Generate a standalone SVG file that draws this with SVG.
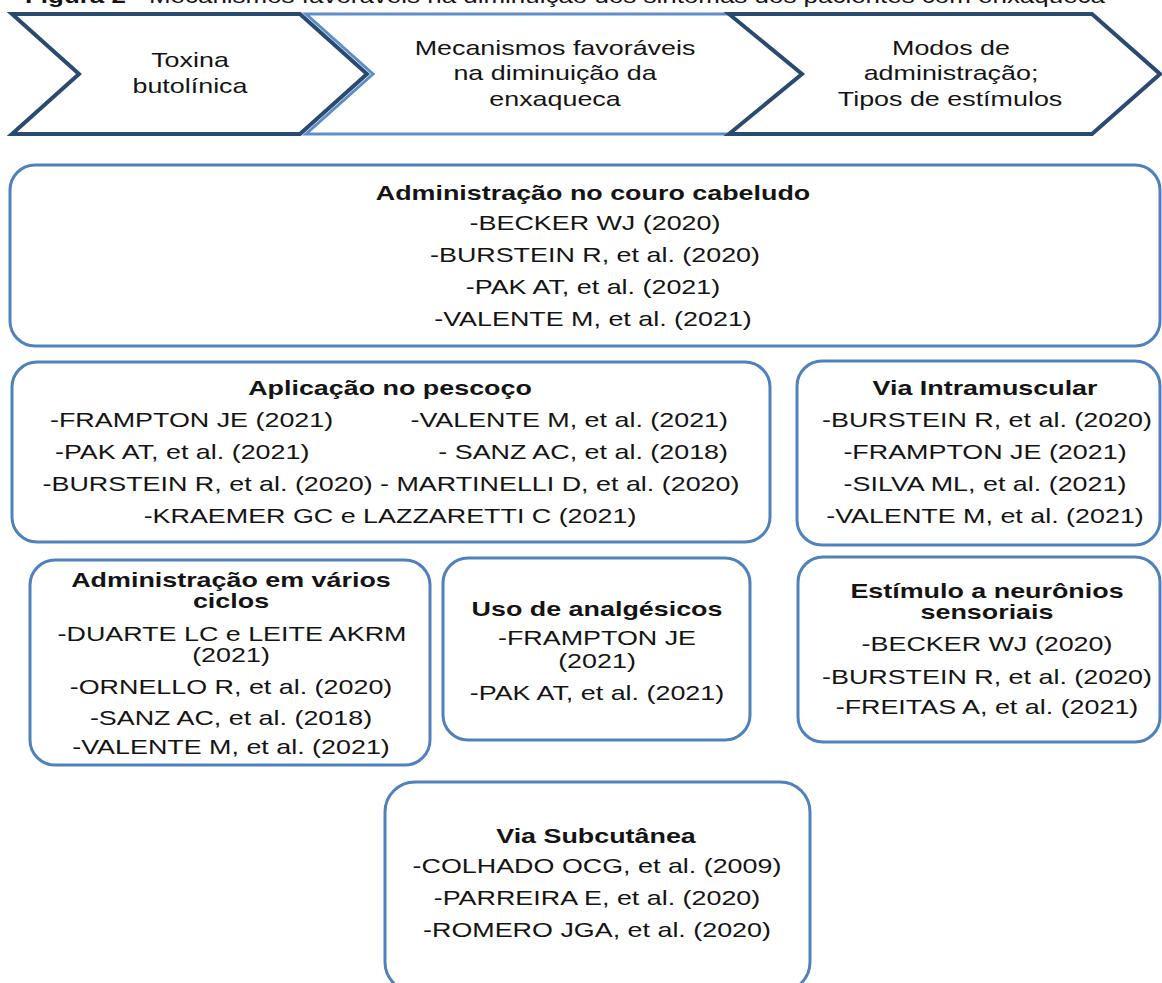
<svg xmlns="http://www.w3.org/2000/svg" width="1162" height="983" viewBox="0 0 1162 983">
<style>
  text { font-family: "Liberation Sans", Arial, sans-serif; font-size: 21px; fill: #141414; text-anchor: middle; }
  .b { font-weight: bold; }
  .s { text-anchor: start; }
  .e { text-anchor: end; }
  .box { fill: #ffffff; stroke: #4F81BD; stroke-width: 3; }
  .navy { fill: #ffffff; stroke: #2B4A70; stroke-width: 4; stroke-linejoin: miter; }
  .light { fill: #ffffff; stroke: #5F8DC8; stroke-width: 3; stroke-linejoin: miter; }
</style>
<rect width="1162" height="983" fill="#ffffff"/>

<g id="caption">
  <text x="25" y="3" class="s" textLength="1080" lengthAdjust="spacingAndGlyphs"><tspan class="b">Figura 2</tspan> - Mecanismos favoráveis na diminuição dos sintomas dos pacientes com enxaqueca</text>
</g>

<g id="chevron2">
  <path class="light" d="M306,14 L734,14 L806,74 L734,134 L306,134 L373,74 Z"/>
  <text transform="translate(555,55) scale(1.28,1)">Mecanismos favoráveis</text>
  <text transform="translate(555,80) scale(1.28,1)">na diminuição da</text>
  <text transform="translate(555,106) scale(1.28,1)">enxaqueca</text>
</g>
<g id="chevron1">
  <path class="navy" d="M12,14 L300,14 L367,74 L300,134 L12,134 L79,74 Z"/>
  <text transform="translate(190,67) scale(1.28,1)">Toxina</text>
  <text transform="translate(190,93) scale(1.28,1)">butolínica</text>
</g>
<g id="chevron3">
  <path class="navy" d="M729,14 L1092,14 L1160,74 L1092,134 L729,134 L802,74 Z"/>
  <text transform="translate(951,55) scale(1.28,1)">Modos de</text>
  <text transform="translate(951,80) scale(1.28,1)">administração;</text>
  <text transform="translate(950,106) scale(1.28,1)">Tipos de estímulos</text>
</g>

<g id="connectors"></g>

<g id="couro-cabeludo">
  <rect class="box" x="10" y="165" width="1150" height="181" rx="25" ry="25"/>
  <text class="b" transform="translate(593,200) scale(1.28,1)">Administração no couro cabeludo</text>
  <text transform="translate(595,230) scale(1.28,1)">-BECKER WJ (2020)</text>
  <text transform="translate(595,262) scale(1.28,1)">-BURSTEIN R, et al. (2020)</text>
  <text transform="translate(593,294) scale(1.28,1)">-PAK AT, et al. (2021)</text>
  <text transform="translate(593,326) scale(1.28,1)">-VALENTE M, et al. (2021)</text>
</g>

<g id="pescoco">
  <rect class="box" x="12" y="362" width="758" height="180" rx="25" ry="25"/>
  <text class="b" transform="translate(390,395) scale(1.28,1)">Aplicação no pescoço</text>
  <text class="s" transform="translate(50,427) scale(1.28,1)">-FRAMPTON JE (2021)</text>
  <text class="e" transform="translate(728,427) scale(1.28,1)">-VALENTE M, et al. (2021)</text>
  <text class="s" transform="translate(55,459) scale(1.28,1)">-PAK AT, et al. (2021)</text>
  <text class="e" transform="translate(728,459) scale(1.28,1)">- SANZ AC, et al. (2018)</text>
  <text transform="translate(391,491) scale(1.28,1)">-BURSTEIN R, et al. (2020) - MARTINELLI D, et al. (2020)</text>
  <text transform="translate(390,523) scale(1.28,1)">-KRAEMER GC e LAZZARETTI C (2021)</text>
</g>

<g id="intramuscular">
  <rect class="box" x="797" y="361" width="363" height="184" rx="25" ry="25"/>
  <text class="b" transform="translate(985,395) scale(1.28,1)">Via Intramuscular</text>
  <text transform="translate(987,427) scale(1.28,1)">-BURSTEIN R, et al. (2020)</text>
  <text transform="translate(985,459) scale(1.28,1)">-FRAMPTON JE (2021)</text>
  <text transform="translate(985,491) scale(1.28,1)">-SILVA ML, et al. (2021)</text>
  <text transform="translate(985,523) scale(1.28,1)">-VALENTE M, et al. (2021)</text>
</g>

<g id="varios-ciclos">
  <rect class="box" x="30" y="560" width="400" height="205" rx="25" ry="25"/>
  <text class="b" transform="translate(231,587) scale(1.28,1)">Administração em vários</text>
  <text class="b" transform="translate(231,608) scale(1.28,1)">ciclos</text>
  <text transform="translate(232,641) scale(1.28,1)">-DUARTE LC e LEITE AKRM</text>
  <text transform="translate(231,662) scale(1.28,1)">(2021)</text>
  <text transform="translate(231,694) scale(1.28,1)">-ORNELLO R, et al. (2020)</text>
  <text transform="translate(231,725) scale(1.28,1)">-SANZ AC, et al. (2018)</text>
  <text transform="translate(231,754) scale(1.28,1)">-VALENTE M, et al. (2021)</text>
</g>

<g id="analgesicos">
  <rect class="box" x="443" y="558" width="307" height="182" rx="25" ry="25"/>
  <text class="b" transform="translate(597,616) scale(1.28,1)">Uso de analgésicos</text>
  <text transform="translate(597,645) scale(1.28,1)">-FRAMPTON JE</text>
  <text transform="translate(597,668) scale(1.28,1)">(2021)</text>
  <text transform="translate(597,700) scale(1.28,1)">-PAK AT, et al. (2021)</text>
</g>

<g id="neuronios">
  <rect class="box" x="798" y="557" width="362" height="185" rx="25" ry="25"/>
  <text class="b" transform="translate(987,598) scale(1.28,1)">Estímulo a neurônios</text>
  <text class="b" transform="translate(987,619) scale(1.28,1)">sensoriais</text>
  <text transform="translate(987,651) scale(1.28,1)">-BECKER WJ (2020)</text>
  <text transform="translate(987,684) scale(1.28,1)">-BURSTEIN R, et al. (2020)</text>
  <text transform="translate(987,714) scale(1.28,1)">-FREITAS A, et al. (2021)</text>
</g>

<g id="subcutanea">
  <rect class="box" x="385" y="782" width="425" height="210" rx="30" ry="30"/>
  <text class="b" transform="translate(596,843) scale(1.28,1)">Via Subcutânea</text>
  <text transform="translate(597,873) scale(1.28,1)">-COLHADO OCG, et al. (2009)</text>
  <text transform="translate(597,905) scale(1.28,1)">-PARREIRA E, et al. (2020)</text>
  <text transform="translate(597,937) scale(1.28,1)">-ROMERO JGA, et al. (2020)</text>
</g>
</svg>
